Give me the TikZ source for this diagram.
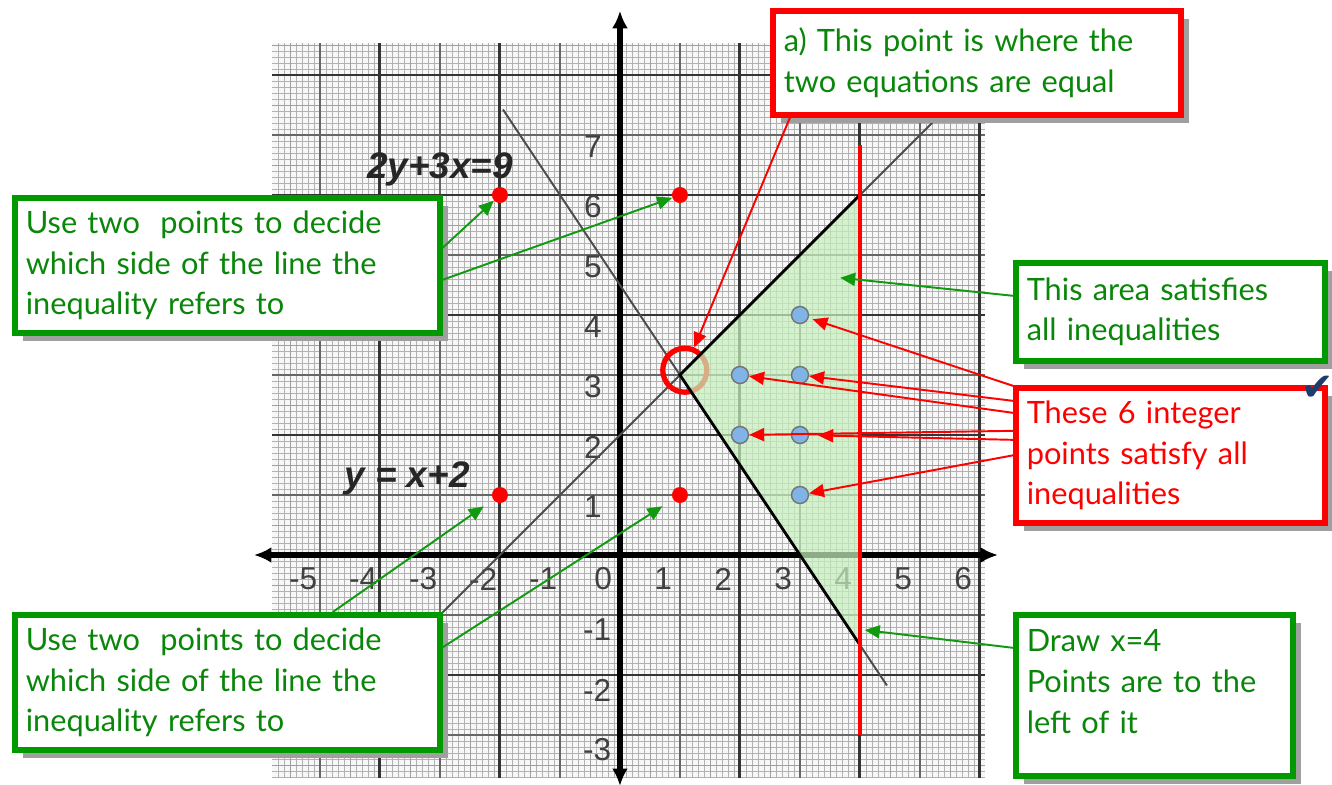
\documentclass[tikz,border=0pt]{standalone}
\usepackage{fontspec}
\setmainfont{Lato}
\newfontfamily\axisfont{Liberation Sans}
\newfontfamily\symfont{DejaVu Sans}
\usepackage{tikz}
\usetikzlibrary{arrows.meta, positioning, calc, shadows}
\definecolor{boxGreen}{HTML}{009900}
\definecolor{textGreen}{HTML}{0A870A}
\definecolor{arrowGreen}{HTML}{109A10}
\definecolor{markRed}{HTML}{FF0000}
\definecolor{regionGreen}{HTML}{C6F0BC}
\definecolor{dotBlue}{HTML}{80B3E6}
\definecolor{tickNavy}{HTML}{1F3C6E}

\begin{document}
\begin{tikzpicture}[
    x=1.2cm, y=1.2cm,
    >={Triangle[length=0.3cm, width=0.26cm]},
    note/.style={
        rectangle, line width=3.2pt, fill=white,
        align=left, anchor=north west,
        inner xsep=0.22cm, inner ysep=0.1cm,
        font=\fontsize{17.5}{23.3}\selectfont,
        drop shadow={shadow xshift=0.16cm, shadow yshift=-0.16cm,
                     fill=gray!75, opacity=1},
    },
    greenNote/.style={note, draw=boxGreen, text=textGreen},
    redNote/.style={note, draw=markRed, text=markRed},
    greenArrow/.style={->, draw=arrowGreen, fill=arrowGreen, line width=1.1pt},
    redArrow/.style={->, draw=markRed, fill=markRed, line width=1.1pt},
    fineGrid/.style={step=0.1, draw=gray!60, line width=0.3pt},
    halfGrid/.style={step=0.5, draw=gray!75, line width=0.5pt},
    unitGrid/.style={step=1, draw=black!60, line width=1.1pt},
    evenGrid/.style={step=2, draw=black!80, line width=1.7pt},
    tickLabel/.style={font=\axisfont\fontsize{18}{18}\selectfont, text=black!75},
    eqLabel/.style={font=\axisfont\bfseries\itshape\fontsize{21}{21}\selectfont,
                    text=black!85},
    eqLine/.style={draw=black!70, line width=1.1pt},
    redDot/.style={circle, fill=markRed, inner sep=0pt, minimum size=0.32cm},
    blueDot/.style={circle, fill=dotBlue, draw=black!55, line width=0.8pt,
                    inner sep=0pt, minimum size=0.34cm},
]
\useasboundingbox (-10.333,-3.833) rectangle (11.867,9.25);

%--- Graph paper ---
\fill[gray!6] (-5.8,-3.72) rectangle (6.08,8.53);
\draw[fineGrid] (-5.8,-3.72) grid (6.08,8.53);
\draw[halfGrid] (-5.8,-3.72) grid (6.08,8.53);
\draw[unitGrid] (-5.8,-3.72) grid (6.08,8.53);
\draw[evenGrid] (-5.8,-3.72) grid (6.08,8.53);

%--- Axes ---
\draw[line width=3pt, {Latex[length=0.35cm, width=0.32cm]}-{Latex[length=0.35cm, width=0.32cm]}]
    (-6.1,0) -- (6.3,0);
\draw[line width=3pt, {Latex[length=0.35cm, width=0.32cm]}-{Latex[length=0.35cm, width=0.32cm]}]
    (0,-3.85) -- (0,9.07);

% tick numbers
\foreach \k [count=\i] in {-5,...,6}
    \node[tickLabel] (xl\i) at (\k-0.28,-0.4) {\k};
\foreach \k [count=\i] in {1,...,7}
    \node[tickLabel] (yl\i) at (-0.45,\k-0.2) {\k};
\foreach \k [count=\i] in {-1,-2,-3}
    \node[tickLabel] (ym\i) at (-0.38,\k-0.25) {\k};

%--- Boundary lines ---
\draw[eqLine] (-3,-1) -- (5.42,7.42);
\draw[eqLine] (-1.95,7.425) -- (4.45,-2.175);

% intersection marker (partly under the region)
\node[circle, draw=markRed, line width=3pt, minimum size=0.88cm, inner sep=0pt]
    (meet) at (1.08,3.08) {};

%--- Feasible region ---
\coordinate (vMeet) at (1,3);
\coordinate (vTop) at (4,6);
\coordinate (vBot) at (4,-1.5);
\fill[regionGreen, opacity=0.72] (vMeet) -- (vTop) -- (vBot) -- cycle;
\draw[black, line width=1.6pt] (vTop) -- (vMeet) -- (vBot);
\draw[markRed, line width=2.2pt] (4,6.83) -- (4,-3);

%--- Test points ---
\node[redDot] (rA) at (-2,6) {};
\node[redDot] (rB) at (1,6) {};
\node[redDot] (rC) at (-2,1) {};
\node[redDot] (rD) at (1,1) {};

%--- Integer points ---
\node[blueDot] (p34) at (3,4) {};
\node[blueDot] (p33) at (3,3) {};
\node[blueDot] (p23) at (2,3) {};
\node[blueDot] (p22) at (2,2) {};
\node[blueDot] (p32) at (3,2) {};
\node[blueDot] (p31) at (3,1) {};

%--- Equation labels ---
\node[eqLabel] (eqLeft) at (-3.0,6.42) {2y+3x=9};
\node[eqLabel] (eqRight) at (-3.55,1.28) {y = x+2};

%--- Notes ---
\node[note, draw=markRed, text=textGreen, text width=7.72cm, minimum height=2.08cm]
    (meetNote) at (2.5,9.117) {a) This point is where the\\two equations are equal};
\node[greenNote, text width=8.06cm, minimum height=2.7cm]
    (upperNote) at (-10.133,6.0) {Use two \ points to decide\\which side of the line the\\inequality refers to};
\node[greenNote, text width=8.06cm, minimum height=2.7cm]
    (lowerNote) at (-10.133,-0.95) {Use two \ points to decide\\which side of the line the\\inequality refers to};
\node[greenNote, text width=5.74cm, minimum height=1.96cm]
    (areaNote) at (6.55,4.917) {This area satisfies\\all inequalities};
\node[redNote, text width=5.74cm, minimum height=2.7cm]
    (pointsNote) at (6.55,2.833) {These 6 integer\\points satisfy all\\inequalities};
\node[greenNote, text width=5.1cm, minimum height=3.22cm]
    (lineNote) at (6.55,-0.95) {Draw x=4\\Points are to the\\left of it\\[-0.25cm]\mbox{}};

%--- Arrows ---
\draw[redArrow] ([xshift=0.4cm]meetNote.south west) -- (meet);

\draw[greenArrow] ([yshift=0.35cm]upperNote.east) -- (rA);
\draw[greenArrow] ([yshift=-0.29cm]upperNote.east) -- (rB);
\draw[greenArrow, shorten >=0.23cm] ([xshift=2.11cm]lowerNote.north) -- (rC);
\draw[greenArrow, shorten >=0.25cm] ([yshift=0.7cm]lowerNote.east) -- (rD);

\coordinate (areaSpot) at (3.67,4.62);
\draw[greenArrow] ([yshift=0.32cm]areaNote.west) -- (areaSpot);
\coordinate (lineSpot) at (4.08,-1.25);
\draw[greenArrow] ([yshift=0.95cm]lineNote.west) -- (lineSpot);

\draw[redArrow, shorten >=0.08cm] ([yshift=1.39cm]pointsNote.west) -- (p34);
\draw[redArrow] ([yshift=1.09cm]pointsNote.west) -- (p33);
\draw[redArrow] ([yshift=0.85cm]pointsNote.west) -- (p23);
\draw[redArrow] ([yshift=0.49cm]pointsNote.west) -- (p22);
\draw[redArrow, shorten >=0.18cm] ([yshift=0.31cm]pointsNote.west) -- (p32);
\draw[redArrow] (pointsNote.west) -- (p31);

% tick mark on the corner
\node[font=\symfont\fontsize{22}{22}\selectfont, text=tickNavy] (tick) at (11.63,2.77) {✔};

\end{tikzpicture}
\end{document}
